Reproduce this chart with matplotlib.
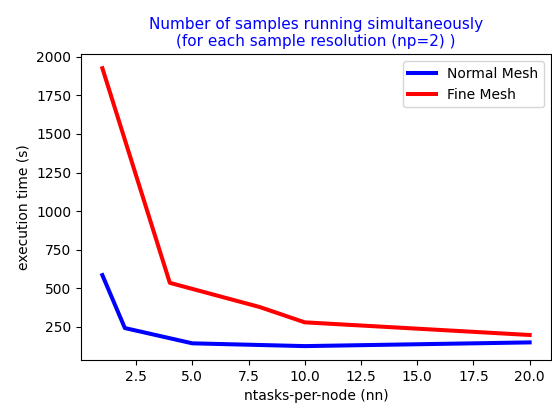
import matplotlib
matplotlib.use("Agg")
import matplotlib.pyplot as plt

# ---------------------------------------------------------------------------
# Data
nn_normal   = [1, 2, 5, 10, 20]
time_normal = [585, 242, 143, 125, 149]

nn_fine     = [1, 4, 8, 10, 20]
time_fine   = [1926, 535, 378, 279, 197]

title_text  = "Number of samples running simultaneously\n(for each sample resolution (np=2) )"
# ---------------------------------------------------------------------------

plt.rcParams["font.size"] = 10

fig = plt.figure(figsize=(5.52, 4.05), dpi=100)
ax = fig.add_axes([81 / 552, 1 - 360 / 405, 470 / 552, (360 - 54.3) / 405])

ax.plot(nn_normal, time_normal, color="blue", linewidth=2.9, label="Normal Mesh")
ax.plot(nn_fine, time_fine, color="red", linewidth=2.9, label="Fine Mesh")

ax.set_title(title_text, color="blue", fontsize=11)
ax.set_xlabel("ntasks-per-node (nn)")
ax.set_ylabel("execution time (s)")
ax.legend(loc="upper right")

fig.savefig("out.png", dpi=100)
